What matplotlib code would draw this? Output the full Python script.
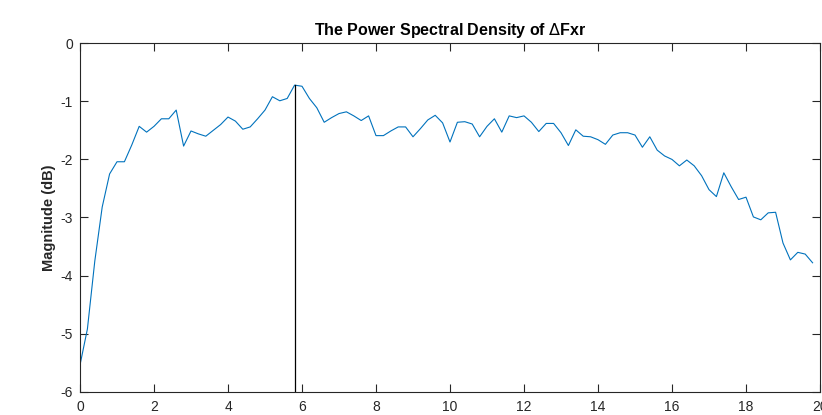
import numpy as np
import matplotlib
matplotlib.use("Agg")
import matplotlib.pyplot as plt

# Frequency bins (0.2 spacing) and PSD magnitude in dB
freq = np.round(np.arange(100) * 0.2, 1)
magnitude_db = [
    -5.54, -4.92, -3.75, -2.82, -2.25, -2.04, -2.04, -1.75, -1.43, -1.53,
    -1.43, -1.30, -1.30, -1.15, -1.77, -1.51, -1.56, -1.60, -1.50, -1.40,
    -1.27, -1.34, -1.48, -1.44, -1.30, -1.15, -0.92, -0.99, -0.95, -0.72,
    -0.74, -0.95, -1.11, -1.36, -1.28, -1.21, -1.18, -1.25, -1.33, -1.25,
    -1.59, -1.59, -1.51, -1.44, -1.44, -1.61, -1.47, -1.32, -1.24, -1.37,
    -1.70, -1.36, -1.35, -1.39, -1.61, -1.43, -1.30, -1.53, -1.25, -1.28,
    -1.25, -1.36, -1.52, -1.38, -1.38, -1.54, -1.76, -1.49, -1.60, -1.61,
    -1.66, -1.74, -1.58, -1.54, -1.54, -1.58, -1.79, -1.61, -1.84, -1.94,
    -2.00, -2.11, -2.01, -2.11, -2.28, -2.52, -2.64, -2.23, -2.47, -2.69,
    -2.65, -2.99, -3.04, -2.92, -2.91, -3.44, -3.73, -3.60, -3.63, -3.78,
]
x_ticks = [0, 2, 4, 6, 8, 10, 12, 14, 16, 18, 20]
y_ticks = [-6, -5, -4, -3, -2, -1, 0]
title_text = "The Power Spectral Density of $\\Delta$Fxr"
ylabel_text = "Magnitude (dB)"

ink = "#262626"
plt.rcParams["font.family"] = ["Liberation Sans", "DejaVu Sans"]
plt.rcParams["mathtext.fontset"] = "dejavusans"

fig = plt.figure(figsize=(8.22, 4.15), dpi=100)
ax = fig.add_axes([80 / 822, (415 - 391.7) / 415, 740 / 822, 348.4 / 415])

ax.plot(freq, magnitude_db, color="#0072BD", lw=0.8)

# Mark the spectral peak
ipk = int(np.argmax(magnitude_db))
ax.plot([freq[ipk], freq[ipk]], [y_ticks[0], magnitude_db[ipk]], color="black", lw=0.9)

ax.set_xlim(0, 20)
ax.set_ylim(-6, 0)
ax.set_xticks(x_ticks)
ax.set_yticks(y_ticks)
ax.set_xticklabels([str(t) for t in x_ticks])
ax.set_yticklabels([str(t) for t in y_ticks])

ax.tick_params(axis="both", direction="in", length=5.5, width=0.8, color=ink,
               labelcolor=ink, labelsize=10, top=True, right=True)
ax.tick_params(axis="x", pad=6)
ax.tick_params(axis="y", pad=5)
for s in ax.spines.values():
    s.set_color(ink)
    s.set_linewidth(0.8)

ax.set_title(title_text, fontsize=11.5, fontweight="bold", color="black", pad=6)
ax.set_ylabel(ylabel_text, fontsize=10.5, fontweight="bold", color=ink, labelpad=3.5)

fig.savefig("out.png", dpi=100)
